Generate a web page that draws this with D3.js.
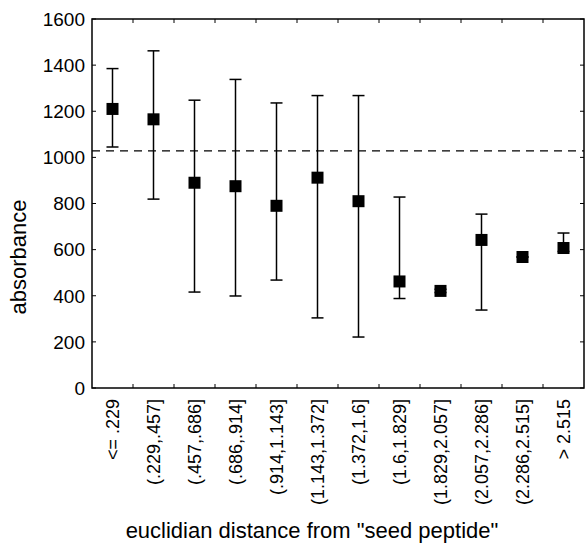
<!DOCTYPE html>
<html>
<head>
<meta charset="utf-8">
<script src="https://cdn.jsdelivr.net/npm/d3@7"></script>
<style>
  body { margin: 0; background: #fff; }
  text { font-family: "Liberation Sans", Arial, sans-serif; fill: #000; }
</style>
</head>
<body>
<div class="main"></div>
<script>
// distance bins
const categories = ["<= .229", "(.229,.457]", "(.457,.686]", "(.686,.914]", "(.914,1.143]",
  "(1.143,1.372]", "(1.372,1.6]", "(1.6,1.829]", "(1.829,2.057]", "(2.057,2.286]",
  "(2.286,2.515]", "> 2.515"];
// mean absorbance and error bar ends
const means = [1210, 1165, 890, 875, 790, 912, 810, 462, 421, 642, 568, 607];
const upper = [1385, 1462, 1248, 1338, 1236, 1268, 1268, 828, 428, 754, 568, 672];
const lower = [1045, 819, 416, 399, 468, 304, 221, 388, 414, 338, 568, 592];
const yTicks = [0, 200, 400, 600, 800, 1000, 1200, 1400, 1600];
const reference = 1028;

const width = 585, height = 543;
const margin = { top: 19, right: 1, bottom: 155, left: 92 };

const svg = d3.select('.main').append('svg')
    .attr("width", width)
    .attr("height", height);

let x = d3.scaleBand().domain(categories).range([margin.left, width - margin.right]);
let y = d3.scaleLinear().domain([0, 1600]).range([height - margin.bottom, margin.top]);

const data = categories.map(function(c, i) {
    return { cat: c, mean: means[i], hi: upper[i], lo: lower[i] };
});

// bin boundaries for the top/bottom ticks
const bounds = categories.slice(1).map(function(c) { return x(c); });

// ticks inward on all four sides
const tickLen = 4;
const plot = svg.append("g");
plot.selectAll(".ytick-l").data(yTicks).enter().append("line")
    .attr("x1", margin.left).attr("x2", margin.left + tickLen)
    .attr("y1", d => y(d)).attr("y2", d => y(d))
    .attr("stroke", "#000").attr("stroke-width", 1);
plot.selectAll(".ytick-r").data(yTicks).enter().append("line")
    .attr("x1", width - margin.right).attr("x2", width - margin.right - tickLen)
    .attr("y1", d => y(d)).attr("y2", d => y(d))
    .attr("stroke", "#000").attr("stroke-width", 1);
plot.selectAll(".xtick-b").data(bounds).enter().append("line")
    .attr("x1", d => d).attr("x2", d => d)
    .attr("y1", y(0)).attr("y2", y(0) - tickLen)
    .attr("stroke", "#000").attr("stroke-width", 1);
plot.selectAll(".xtick-t").data(bounds).enter().append("line")
    .attr("x1", d => d).attr("x2", d => d)
    .attr("y1", y(1600)).attr("y2", y(1600) + tickLen)
    .attr("stroke", "#000").attr("stroke-width", 1);

// frame
svg.append("rect")
    .attr("x", margin.left)
    .attr("y", y(1600))
    .attr("width", width - margin.right - margin.left)
    .attr("height", y(0) - y(1600))
    .attr("fill", "none")
    .attr("stroke", "#000")
    .attr("stroke-width", 1.5);

// y tick labels
svg.selectAll(".ylab").data(yTicks).enter().append("text")
    .attr("x", margin.left - 7)
    .attr("y", d => y(d))
    .attr("dy", "0.36em")
    .attr("text-anchor", "end")
    .style("font-size", "19px")
    .text(d => d);

// x tick labels, rotated
svg.selectAll(".xlab").data(categories).enter().append("text")
    .attr("transform", d => "translate(" + (x(d) + x.bandwidth() / 2) + "," + (y(0) + 11) + ") rotate(-90)")
    .attr("dy", "0.36em")
    .attr("text-anchor", "end")
    .style("font-size", "18px")
    .text(d => d);

// axis titles
svg.append("text")
    .attr("transform", "translate(18,257) rotate(-90)")
    .attr("dy", "0.36em")
    .attr("text-anchor", "middle")
    .style("font-size", "22px")
    .text("absorbance");
svg.append("text")
    .attr("x", 312)
    .attr("y", 538)
    .attr("text-anchor", "middle")
    .style("font-size", "22px")
    .text("euclidian distance from \"seed peptide\"");

// dashed reference line
svg.append("line")
    .attr("x1", margin.left).attr("x2", width - margin.right)
    .attr("y1", y(reference)).attr("y2", y(reference))
    .attr("stroke", "#000")
    .attr("stroke-width", 1.3)
    .attr("stroke-dasharray", "8,6");

// error bars
const cap = 6;
const bars = svg.selectAll(".err").data(data).enter().append("g").attr("class", "err");
bars.append("line")
    .attr("x1", d => x(d.cat) + x.bandwidth() / 2).attr("x2", d => x(d.cat) + x.bandwidth() / 2)
    .attr("y1", d => y(d.hi)).attr("y2", d => y(d.lo))
    .attr("stroke", "#000").attr("stroke-width", 1.5);
bars.append("line")
    .attr("x1", d => x(d.cat) + x.bandwidth() / 2 - cap).attr("x2", d => x(d.cat) + x.bandwidth() / 2 + cap)
    .attr("y1", d => y(d.hi)).attr("y2", d => y(d.hi))
    .attr("stroke", "#000").attr("stroke-width", 1.5);
bars.append("line")
    .attr("x1", d => x(d.cat) + x.bandwidth() / 2 - cap).attr("x2", d => x(d.cat) + x.bandwidth() / 2 + cap)
    .attr("y1", d => y(d.lo)).attr("y2", d => y(d.lo))
    .attr("stroke", "#000").attr("stroke-width", 1.5);

// mean markers
const sq = 12;
svg.selectAll(".mean").data(data).enter().append("rect")
    .attr("x", d => x(d.cat) + x.bandwidth() / 2 - sq / 2)
    .attr("y", d => y(d.mean) - sq / 2)
    .attr("width", sq)
    .attr("height", sq)
    .attr("fill", "#000");
</script>
</body>
</html>
